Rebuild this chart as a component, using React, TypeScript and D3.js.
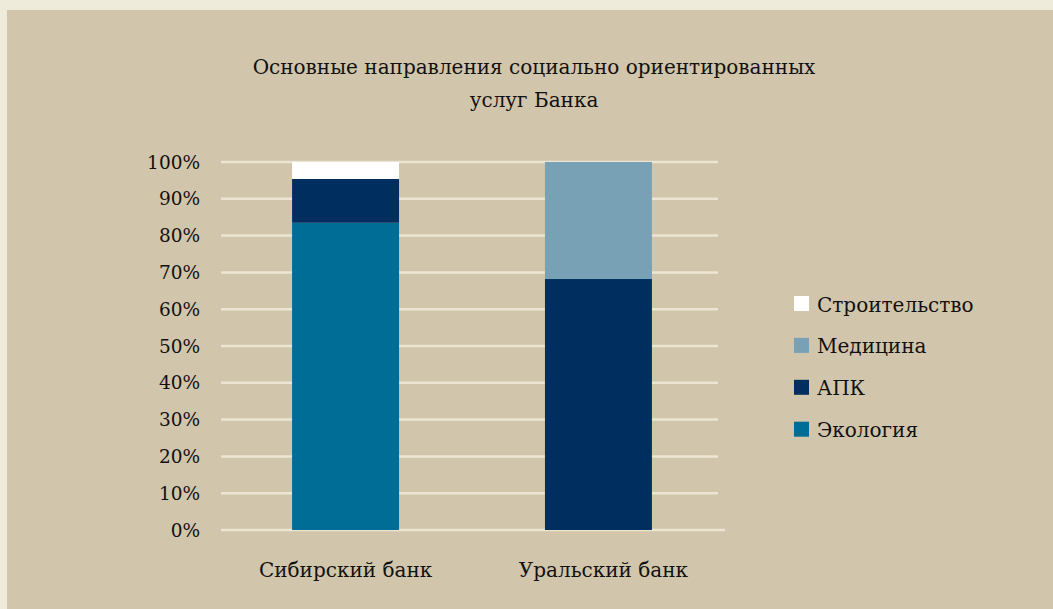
import React from "react";
import * as d3 from "d3";

const categories = ["Сибирский банк", "Уральский банк"];
const seriesNames = ["Экология", "АПК", "Медицина", "Строительство"];
const ecology = [83.5, 0];
const apk = [11.9, 68.2];
const medicine = [0, 31.8];
const construction = [4.6, 0];
const yTicks = [0, 10, 20, 30, 40, 50, 60, 70, 80, 90, 100];
const colors = ["#006d96", "#002f5f", "#78a1b5", "#ffffff"];
const titleLines = ["Основные направления социально ориентированных", "услуг Банка"];

const W = 1053;
const H = 609;
const FONT = "'DejaVu Serif', 'Liberation Serif', serif";

export default function App() {
  const y = d3.scaleLinear().domain([0, 100]).range([530, 162]);
  const x = d3.scaleBand().domain(categories).range([220, 724]).paddingInner(0.577).paddingOuter(0.285);
  const rows = categories.map((c, i) => ({
    cat: c,
    "Экология": ecology[i],
    "АПК": apk[i],
    "Медицина": medicine[i],
    "Строительство": construction[i],
  }));
  const stacked = d3.stack<any>().keys(seriesNames)(rows);
  const legendOrder = [...seriesNames].reverse();

  return (
    <div style={{ position: "fixed", left: 0, top: 0, width: W, height: H }}>
      <svg width={W} height={H} style={{ display: "block" }}>
        <rect x={0} y={0} width={W} height={H} fill="#efebdb" />
        <rect x={7} y={10} width={W - 7} height={H - 10} fill="#d1c5ab" />
        {titleLines.map((t, i) => (
          <text key={i} x={534} y={74 + i * 32.5} textAnchor="middle" fontFamily={FONT} fontSize={20} fill="#111">
            {t}
          </text>
        ))}
        {yTicks.map((t) => (
          <line key={t} x1={221} x2={t === 0 ? 725 : 718} y1={y(t)} y2={y(t)} stroke="#ece5d3" strokeWidth={2.5} />
        ))}
        {yTicks.map((t) => (
          <text key={"l" + t} x={200} y={y(t) + 6.5} textAnchor="end" fontFamily={FONT} fontSize={18.5} fill="#111">
            {t + "%"}
          </text>
        ))}
        {stacked.map((s, si) =>
          s.map((d, i) => {
            const h = y(d[0]) - y(d[1]);
            if (h <= 0) return null;
            return (
              <rect key={si + "-" + i} x={x(categories[i])} y={y(d[1])} width={x.bandwidth()} height={h} fill={colors[si]} />
            );
          })
        )}
        {categories.map((c, i) => (
          <text key={c} x={(x(c) as number) + x.bandwidth() / 2 + (i === 1 ? 5 : 0)} y={577} textAnchor="middle" fontFamily={FONT} fontSize={20} fill="#111">
            {c}
          </text>
        ))}
        {legendOrder.map((n, i) => {
          const si = seriesNames.indexOf(n);
          const cy = 303.5 + i * 41.9;
          return (
            <g key={n}>
              <rect x={794} y={cy - 7.5} width={15} height={15} fill={colors[si]} />
              <text x={817} y={cy + 8} fontFamily={FONT} fontSize={20} fill="#111">
                {n}
              </text>
            </g>
          );
        })}
      </svg>
    </div>
  );
}
